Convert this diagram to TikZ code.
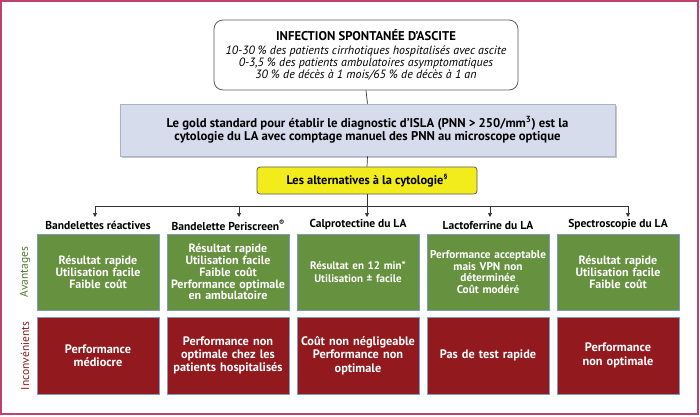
\documentclass[tikz,border=0pt]{standalone}
\usepackage{fontspec}
\setmainfont{PT Sans}
\usetikzlibrary{arrows.meta,shadows}
\definecolor{framec}{HTML}{C2416A}
\definecolor{bluef}{HTML}{D6DCEC}
\definecolor{blued}{HTML}{A9B3C6}
\definecolor{yelf}{HTML}{F3EC1C}
\definecolor{greenf}{HTML}{66913F}
\definecolor{redf}{HTML}{92191D}
\definecolor{boxd}{HTML}{7E9BC6}
\definecolor{greent}{HTML}{4F7A2E}
\definecolor{redt}{HTML}{8A1A1E}
\definecolor{linec}{HTML}{333333}
\newcommand{\supsym}[1]{\raisebox{0.42em}{\fontsize{7.5}{7.5}\selectfont #1}}
\begin{document}
\begin{tikzpicture}[x=1pt,y=-1pt,
  topbox/.style={draw=linec!80, line width=0.8pt, rounded corners=9pt, minimum width=304pt, minimum height=70pt, align=center, font=\fontsize{12}{12.2}\selectfont, inner sep=2pt},
  bluebox/.style={draw=blued, fill=bluef, line width=0.8pt, minimum width=495pt, minimum height=52pt, align=center, font=\bfseries\fontsize{12.7}{13.5}\selectfont, drop shadow={shadow xshift=1.5pt, shadow yshift=-1.5pt, opacity=0.45}},
  yelbox/.style={draw=linec!80, fill=yelf, line width=0.8pt, rounded corners=3pt, minimum width=220pt, minimum height=27pt, font=\bfseries\fontsize{12.4}{13}\selectfont},
  collab/.style={font=\bfseries\fontsize{11.5}{12}\selectfont, inner sep=1pt},
  advbox/.style={draw=boxd, fill=greenf, line width=0.7pt, minimum width=122pt, minimum height=76pt, text width=122pt, align=center, text=white, font=\bfseries\fontsize{12}{11.8}\selectfont, inner sep=0pt},
  disbox/.style={draw=boxd, fill=redf, line width=0.7pt, minimum width=122pt, minimum height=77pt, text width=122pt, align=center, text=white, font=\bfseries\fontsize{12.3}{13.3}\selectfont, inner sep=0pt},
  sidelab/.style={rotate=90, font=\fontsize{11.5}{12}\selectfont},
  conn/.style={draw=linec, line width=0.7pt},
  arr/.style={conn, -{Triangle[length=4pt,width=4pt]}}
]
\useasboundingbox (0,0) rectangle (700,416);
\draw[framec, line width=1.5pt] (1,1) rectangle (698,414);

\node[topbox] (top) at (366,55) {{\bfseries\fontsize{12.7}{14}\selectfont INFECTION SPONTANÉE D’ASCITE}\\[1.5pt]
  {\itshape 10-30 \% des patients cirrhotiques hospitalisés avec ascite}\\
  {\itshape 0-3,5 \% des patients ambulatoires asymptomatiques}\\
  {\itshape 30 \% de décès à 1 mois/65 \% de décès à 1 an}};

\node[bluebox] (gold) at (367.5,130) {Le gold standard pour établir le diagnostic d’ISLA (PNN > 250/mm\textsuperscript{3}) est la\\ cytologie du LA avec comptage manuel des PNN au microscope optique};

\node[yelbox] (alt) at (367,180.5) {Les alternatives à la cytologie\supsym{§}};

\coordinate (b1) at (95,206);
\coordinate (b2) at (239,206);
\coordinate (b3) at (367,206);
\coordinate (b4) at (490,206);
\coordinate (b5) at (628,206);
\coordinate (e1) at (95,217);
\coordinate (e2) at (239,217);
\coordinate (e3) at (367,217);
\coordinate (e4) at (490,217);
\coordinate (e5) at (628,217);

\draw[conn] (top.south) -- (gold.north);
\draw[conn] (gold.south) -- (alt.north);
\draw[conn] (alt.south) -- (b3);
\draw[conn] (b1) -- (b5);
\foreach \i in {1,...,5} {\draw[arr] (b\i) -- (e\i);}

\node[collab] (l1) at (98,225) {Bandelettes réactives};
\node[collab] (l2) at (228,225) {Bandelette Periscreen\supsym{®}};
\node[collab] (l3) at (358,225) {Calprotectine du LA};
\node[collab] (l4) at (488,225) {Lactoferrine du LA};
\node[collab] (l5) at (618,225) {Spectroscopie du LA};

\node[advbox] (a1) at (98,272) {Résultat rapide\\Utilisation facile\\Faible coût};
\node[advbox] (a2) at (228,272) {Résultat rapide\\Utilisation facile\\Faible coût\\Performance optimale\\en ambulatoire};
\node[advbox, font=\bfseries\fontsize{11}{12.5}\selectfont] (a3) at (358,272) {Résultat en 12 min*\\Utilisation ± facile};
\node[advbox, font=\bfseries\fontsize{11.3}{11.8}\selectfont] (a4) at (488,272) {Performance acceptable\\mais VPN non\\déterminée\\Coût modéré};
\node[advbox] (a5) at (618,272) {Résultat rapide\\Utilisation facile\\Faible coût};

\node[disbox] (d1) at (98,355.5) {Performance\\médiocre};
\node[disbox] (d2) at (228,355.5) {Performance non\\optimale chez les\\patients hospitalisés};
\node[disbox] (d3) at (358,355.5) {Coût non négligeable\\Performance non\\optimale};
\node[disbox] (d4) at (488,355.5) {Pas de test rapide};
\node[disbox] (d5) at (618,355.5) {Performance\\non optimale};

\node[sidelab, text=greent] (sa) at (25,272) {Avantages};
\node[sidelab, text=redt] (sd) at (25,356) {Inconvénients};
\end{tikzpicture}
\end{document}
